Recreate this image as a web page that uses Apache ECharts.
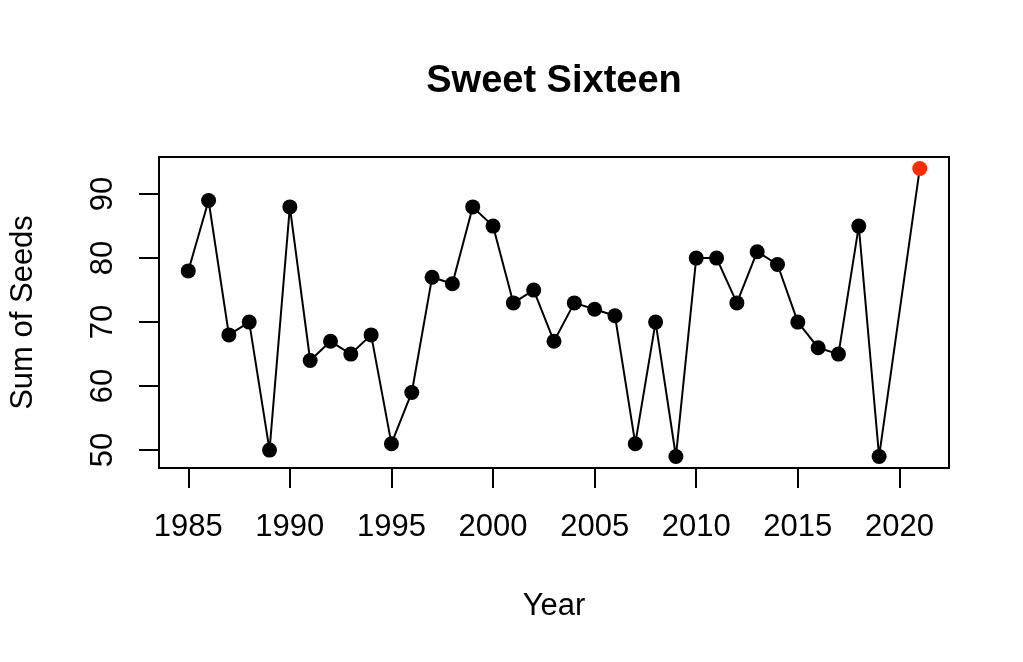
<!DOCTYPE html>
<html>
<head>
<meta charset="utf-8">
<style>
  html, body { margin: 0; padding: 0; background: #fff; }
  #main { width: 1023px; height: 662px; }
</style>
<script src="https://cdn.jsdelivr.net/npm/echarts@6/dist/echarts.min.js"></script>
</head>
<body>
<div id="main"></div>
<script>
var chart = echarts.init(document.getElementById('main'));

// no tournament in 2020
var years = [1985, 1986, 1987, 1988, 1989, 1990, 1991, 1992, 1993, 1994,
    1995, 1996, 1997, 1998, 1999, 2000, 2001, 2002, 2003, 2004,
    2005, 2006, 2007, 2008, 2009, 2010, 2011, 2012, 2013, 2014,
    2015, 2016, 2017, 2018, 2019, 2021];
var seedSums = [78, 89, 68, 70, 50, 88, 64, 67, 65, 68,
    51, 59, 77, 76, 88, 85, 73, 75, 67, 73,
    72, 71, 51, 70, 49, 80, 80, 73, 81, 79,
    70, 66, 65, 85, 49, 94];
var xTicks = [1985, 1990, 1995, 2000, 2005, 2010, 2015, 2020];
var yTicks = [50, 60, 70, 80, 90];
var highlightYear = 2021;

var fontFamily = 'Liberation Sans, Arial, Helvetica, sans-serif';

var points = [];
for (var i = 0; i < years.length; i++) {
    var item = { value: [years[i], seedSums[i]] };
    if (years[i] === highlightYear) {
        item.itemStyle = { color: '#ff2a00' };
    }
    points.push(item);
}

var option = {
    animation: false,
    title: {
        text: 'Sweet Sixteen',
        left: 549,
        top: 58,
        textAlign: 'center',
        textStyle: { fontFamily: fontFamily, fontSize: 38, fontWeight: 'bold', color: '#000' }
    },
    grid: {
        left: 159,
        right: 74,
        top: 157,
        bottom: 194,
        show: true,
        borderColor: '#000',
        borderWidth: 2,
        backgroundColor: 'transparent'
    },
    xAxis: {
        type: 'value',
        min: 1983.56,
        max: 2022.44,
        name: 'Year',
        nameLocation: 'middle',
        nameGap: 123,
        nameTextStyle: { fontFamily: fontFamily, fontSize: 31, color: '#000' },
        axisLine: { show: false },
        splitLine: { show: false },
        axisTick: {
            show: true,
            inside: false,
            length: 20,
            customValues: xTicks,
            lineStyle: { color: '#000', width: 2 }
        },
        axisLabel: {
            customValues: xTicks,
            margin: 44,
            fontFamily: fontFamily,
            fontSize: 31,
            color: '#000',
            formatter: function (v) { return String(v); }
        }
    },
    yAxis: {
        type: 'value',
        min: 47.2,
        max: 95.8,
        name: 'Sum of Seeds',
        nameLocation: 'middle',
        nameGap: 120,
        nameTextStyle: { fontFamily: fontFamily, fontSize: 31, color: '#000' },
        axisLine: { show: false },
        splitLine: { show: false },
        axisTick: {
            show: true,
            inside: false,
            length: 20,
            customValues: yTicks,
            lineStyle: { color: '#000', width: 2 }
        },
        axisLabel: {
            customValues: yTicks,
            rotate: 90,
            margin: 40,
            fontFamily: fontFamily,
            fontSize: 31,
            color: '#000'
        }
    },
    series: [
        {
            type: 'line',
            data: points,
            symbol: 'circle',
            symbolSize: 15,
            showAllSymbol: true,
            itemStyle: { color: '#000' },
            lineStyle: { color: '#000', width: 2 },
            emphasis: { disabled: true }
        }
    ]
};

chart.setOption(option);
</script>
</body>
</html>
